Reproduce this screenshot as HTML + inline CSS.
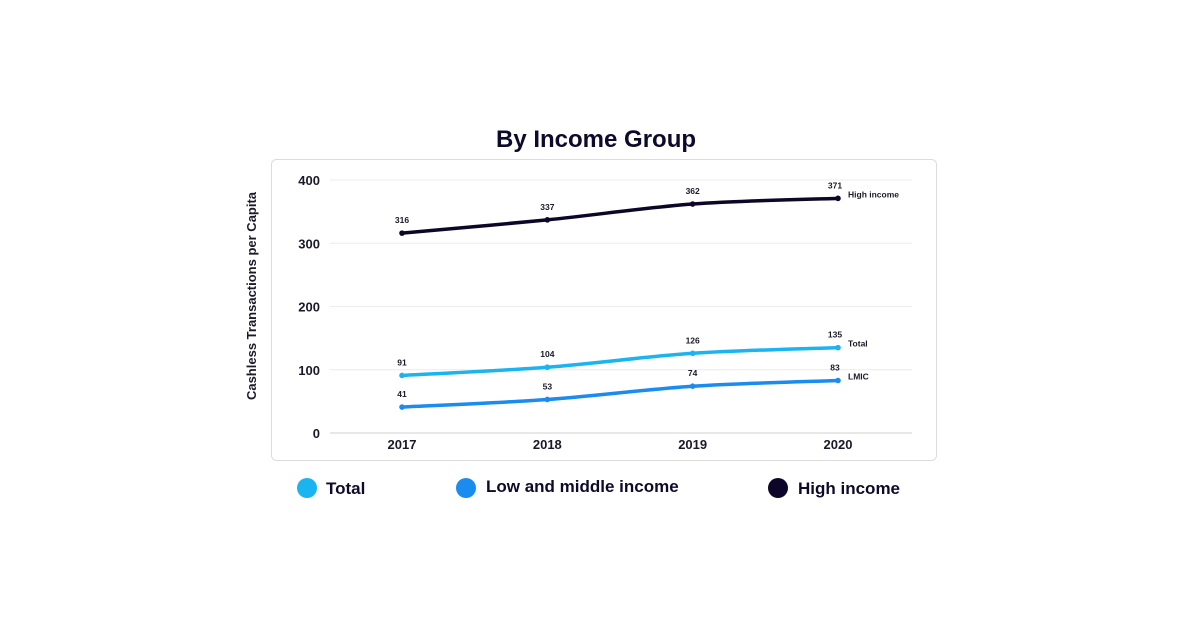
<!DOCTYPE html>
<html><head><meta charset="utf-8"><style>
body{margin:0;width:1200px;height:630px;background:#fff;font-family:"Liberation Sans",sans-serif;overflow:hidden}
svg{display:block}
</style></head><body>
<svg id="chart" width="1200" height="630">
<text x="596" y="147" text-anchor="middle" font-size="24" font-weight="bold" fill="#0d0a2b">By Income Group</text>
<rect x="271.5" y="159.5" width="665" height="301" rx="5" fill="#fff" stroke="#dcdcdc"/>
<text transform="translate(256,296) rotate(-90)" text-anchor="middle" font-size="13" font-weight="bold" fill="#1a1a2a">Cashless Transactions per Capita</text>
<g id="grid"></g><g id="series"></g><g id="legend"></g>
</svg>
<script>
const years=["2017","2018","2019","2020"];
const yTicks=[0,100,200,300,400];
const highIncome=[316,337,362,371];
const total=[91,104,126,135];
const lmic=[41,53,74,83];
const NS="http://www.w3.org/2000/svg";
const x=i=>402+i*145.33;
const y=v=>433-v*0.6325;
function mk(t,a,p){const e=document.createElementNS(NS,t);for(const k in a)e.setAttribute(k,a[k]);p.appendChild(e);return e;}
const grid=document.getElementById('grid');
yTicks.forEach(v=>{
 const l=mk('line',{x1:330,x2:912,y1:y(v),y2:y(v),stroke:v===0?'#d0d0d0':'#ececec','stroke-width':1},grid);
 
 
 const t=mk('text',{x:320,y:y(v)+5,'text-anchor':'end','font-size':13,'font-weight':'bold',fill:'#1a1a2a'},grid);
 t.textContent=v;
 
 
});
years.forEach((yr,i)=>{
 const t=mk('text',{x:x(i),y:449,'text-anchor':'middle','font-size':13,'font-weight':'bold',fill:'#1a1a2a'},grid);
 t.textContent=yr;
 
 
});
const ser=document.getElementById('series');
function path(vals){
 const p=vals.map((v,i)=>[x(i),y(v)]);let d='M'+p[0][0]+','+p[0][1];
 for(let i=0;i<p.length-1;i++){const p0=p[i-1]||p[i],p1=p[i],p2=p[i+1],p3=p[i+2]||p2;const k=0.16;
  d+=` C${p1[0]+(p2[0]-p0[0])*k},${p1[1]+(p2[1]-p0[1])*k} ${p2[0]-(p3[0]-p1[0])*k},${p2[1]-(p3[1]-p1[1])*k} ${p2[0]},${p2[1]}`;}
 return d;}
[[highIncome,'#0d0628','High income','high-income'],[total,'#1ab4f0','Total','total'],[lmic,'#1a8cf0','LMIC','lmic']].forEach(([vals,c,lab,nm])=>{
 const pe=mk('path',{d:path(vals),fill:'none',stroke:c,'stroke-width':3.5},ser);
 
 
 vals.forEach((v,i)=>{
  const ci=mk('circle',{cx:x(i),cy:y(v),r:2.8,fill:c},ser);
  
  
  const t=mk('text',{x:x(i)+(i===3?-3:0),y:y(v)-10,'text-anchor':'middle','font-size':8.5,'font-weight':'bold',fill:'#1a1a2a'},ser);
  t.textContent=v;
  
  
 });
 const el=mk('text',{x:848,y:y(vals[3])-1,'font-size':8.5,'font-weight':'bold',fill:'#1a1a2a'},ser);
 el.textContent=lab;
 
 
});
const leg=document.getElementById('legend');
[[307,326,494,'#1ab4f0','Total','total'],[466,486,492,'#1a8cf0','Low and middle income','lmic'],[778,798,494,'#0d0628','High income','high-income']].forEach(([cx,tx,ty,c,lab,nm])=>{
 const ci=mk('circle',{cx:cx,cy:488,r:10,fill:c},leg);
 
 
 const t=mk('text',{x:tx,y:ty,'font-size':17,'font-weight':'bold',fill:'#0d0a2b'},leg);
 t.textContent=lab;
 
 
});
</script>
</body></html>
